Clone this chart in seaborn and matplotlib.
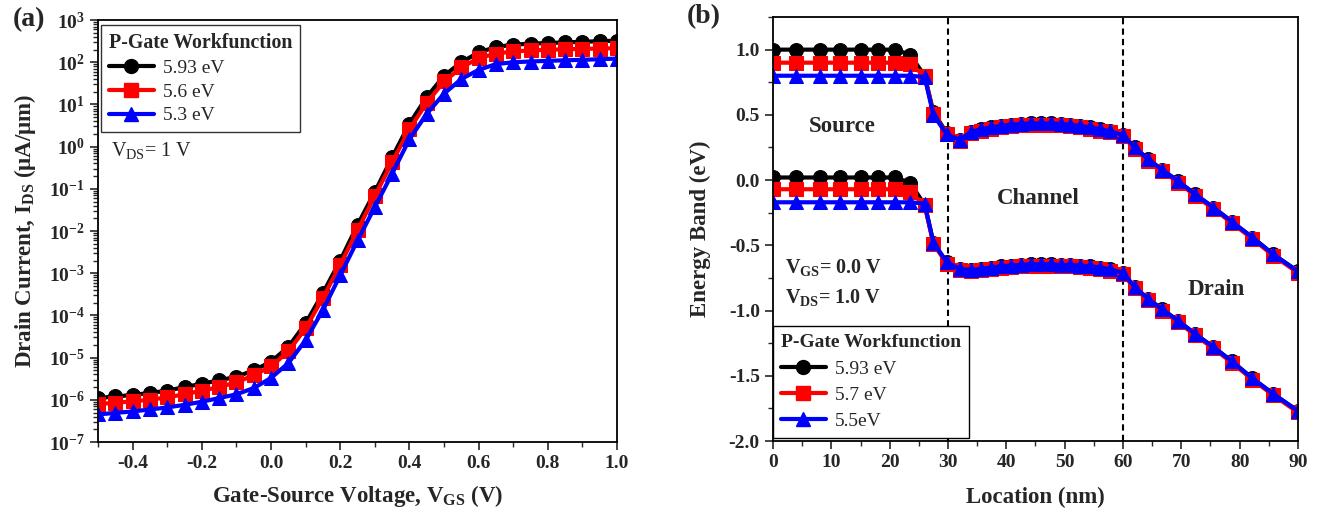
import numpy as np
import pandas as pd
import seaborn as sns
import matplotlib
matplotlib.use("Agg")
import matplotlib.pyplot as plt
from matplotlib.ticker import MultipleLocator, FixedLocator, FuncFormatter, LogLocator, NullFormatter
from matplotlib.lines import Line2D

# ---------------- data: panel (a) ----------------
vgs = [-0.5, -0.45, -0.4, -0.35, -0.3, -0.25, -0.2, -0.15, -0.1, -0.05, 0.0,
       0.05, 0.1, 0.15, 0.2, 0.25, 0.3, 0.35, 0.4, 0.45, 0.5,
       0.55, 0.6, 0.65, 0.7, 0.75, 0.8, 0.85, 0.9, 0.95, 1.0]
ids_593 = [1.1e-6, 1.2e-6, 1.3e-6, 1.45e-6, 1.65e-6, 2.0e-6, 2.4e-6, 2.9e-6, 3.5e-6, 5.0e-6, 8.0e-6,
           1.8e-5, 6.5e-5, 3.4e-4, 2.0e-3, 1.4e-2, 8.5e-2, 0.56, 3.5, 15, 48,
           100, 170, 230, 260, 275, 285, 295, 305, 315, 325]
ids_56 = [8.0e-7, 8.5e-7, 9.2e-7, 1.0e-6, 1.15e-6, 1.35e-6, 1.65e-6, 2.0e-6, 2.6e-6, 3.8e-6, 6.2e-6,
          1.4e-5, 5.0e-5, 2.6e-4, 1.6e-3, 1.05e-2, 6.8e-2, 0.43, 2.6, 11, 35,
          75, 125, 160, 180, 190, 197, 203, 207, 211, 215]
ids_53 = [4.5e-7, 4.9e-7, 5.3e-7, 5.9e-7, 6.6e-7, 7.6e-7, 9.0e-7, 1.1e-6, 1.35e-6, 1.9e-6, 3.3e-6,
          7.4e-6, 2.6e-5, 1.35e-4, 9.0e-4, 6.0e-3, 3.7e-2, 0.23, 1.5, 6.0, 18,
          40, 66, 90, 100, 104, 108, 111, 114, 118, 122]
labels_a = ["5.93 eV", "5.6 eV", "5.3 eV"]

# ---------------- data: panel (b) ----------------
loc_nm = [0, 4, 8, 11.5, 15, 18, 21, 23.5,
          26, 27.5, 29.8, 32, 34,
          35.7, 37.4, 39.1, 40.8, 42.5, 44.2, 45.9, 47.6, 49.3, 51, 52.7, 54.4, 56.1, 57.8, 60,
          62, 64.3, 66.7, 69.5, 72.4, 75.5, 78.7, 82.2, 85.8, 90]
cb_593 = [1.0, 1.0, 1.0, 1.0, 1.0, 1.0, 1.0, 0.96,
          0.80, 0.52, 0.36, 0.31, 0.37,
          0.39, 0.405, 0.415, 0.425, 0.43, 0.435, 0.435, 0.435, 0.43, 0.425, 0.415, 0.405, 0.39, 0.375, 0.345,
          0.25, 0.16, 0.08, -0.01, -0.11, -0.21, -0.32, -0.44, -0.57, -0.70]
cb_57 = [0.9, 0.9, 0.9, 0.9, 0.9, 0.9, 0.9, 0.89,
         0.80, 0.51, 0.35, 0.30, 0.36,
         0.38, 0.395, 0.405, 0.415, 0.42, 0.425, 0.425, 0.425, 0.42, 0.415, 0.405, 0.395, 0.38, 0.365, 0.335,
         0.24, 0.15, 0.07, -0.02, -0.12, -0.22, -0.33, -0.45, -0.58, -0.71]
cb_55 = [0.8, 0.8, 0.8, 0.8, 0.8, 0.8, 0.8, 0.8,
         0.79, 0.50, 0.35, 0.31, 0.37,
         0.39, 0.405, 0.415, 0.425, 0.43, 0.435, 0.435, 0.435, 0.43, 0.425, 0.415, 0.405, 0.39, 0.375, 0.345,
         0.25, 0.16, 0.08, -0.01, -0.11, -0.21, -0.32, -0.44, -0.57, -0.70]
vb_593 = [0.02, 0.02, 0.02, 0.02, 0.02, 0.02, 0.02, -0.02,
          -0.19, -0.48, -0.63, -0.68, -0.69,
          -0.68, -0.67, -0.66, -0.655, -0.65, -0.645, -0.645, -0.645, -0.65, -0.65, -0.655, -0.66, -0.67, -0.685, -0.71,
          -0.82, -0.91, -0.99, -1.08, -1.18, -1.28, -1.39, -1.52, -1.64, -1.77]
vb_57 = [-0.07, -0.07, -0.07, -0.07, -0.07, -0.07, -0.07, -0.09,
         -0.19, -0.49, -0.64, -0.69, -0.70,
         -0.69, -0.68, -0.67, -0.665, -0.66, -0.655, -0.655, -0.655, -0.66, -0.66, -0.665, -0.67, -0.68, -0.695, -0.72,
         -0.83, -0.92, -1.00, -1.09, -1.19, -1.29, -1.40, -1.53, -1.65, -1.78]
vb_55 = [-0.17, -0.17, -0.17, -0.17, -0.17, -0.17, -0.17, -0.17,
         -0.18, -0.48, -0.63, -0.68, -0.69,
         -0.68, -0.67, -0.66, -0.655, -0.65, -0.645, -0.645, -0.645, -0.65, -0.65, -0.655, -0.66, -0.67, -0.685, -0.71,
         -0.82, -0.91, -0.99, -1.08, -1.18, -1.28, -1.39, -1.52, -1.64, -1.77]
labels_b = ["5.93 eV", "5.7 eV", "5.5eV"]

colors = ["#000000", "#ff0000", "#0000ff"]
markers = ["o", "s", "^"]

# ---------------- style ----------------
sns.set_style("ticks")
plt.rcParams["font.family"] = ["Liberation Serif", "DejaVu Serif"]
plt.rcParams["mathtext.fontset"] = "custom"
plt.rcParams["mathtext.rm"] = "Liberation Serif"
plt.rcParams["mathtext.bf"] = "Liberation Serif:bold"
plt.rcParams["mathtext.it"] = "Liberation Serif:italic"
plt.rcParams["axes.linewidth"] = 1.3
plt.rcParams["xtick.direction"] = "out"
plt.rcParams["ytick.direction"] = "out"

fig = plt.figure(figsize=(13.18, 5.16), dpi=100)
ax1 = fig.add_axes([0.0744, 0.1434, 0.3938, 0.8178])
ax2 = fig.add_axes([0.5865, 0.1453, 0.3983, 0.8217])

LW = 3.0
MS = 10
LABEL_FS = 16.5

# ---------------- panel (a) ----------------
df_a = pd.DataFrame({"vgs": vgs * 3,
                     "ids": ids_593 + ids_56 + ids_53,
                     "wf": [labels_a[0]] * len(vgs) + [labels_a[1]] * len(vgs) + [labels_a[2]] * len(vgs)})
for lab, c, m in zip(labels_a, colors, markers):
    sub = df_a[df_a["wf"] == lab]
    sns.lineplot(data=sub, x="vgs", y="ids", ax=ax1, color=c, marker=m, markersize=MS,
                 markeredgecolor=c, linewidth=LW, legend=False, estimator=None, sort=False)

ax1.set_yscale("log")
ax1.set_xlim(-0.5, 1.0)
ax1.set_ylim(1e-7, 1e3)
ax1.xaxis.set_major_locator(FixedLocator([-0.4, -0.2, 0.0, 0.2, 0.4, 0.6, 0.8, 1.0]))
ax1.xaxis.set_minor_locator(MultipleLocator(0.1))
ax1.xaxis.set_major_formatter(FuncFormatter(lambda v, p: f"{v:.1f}"))
ax1.yaxis.set_major_locator(LogLocator(base=10, numticks=20))
ax1.yaxis.set_minor_locator(LogLocator(base=10, subs=np.arange(2, 10), numticks=20))
ax1.yaxis.set_minor_formatter(NullFormatter())
ax1.yaxis.set_major_formatter(FuncFormatter(lambda v, p: r"$\mathbf{10^{%d}}$" % int(round(np.log10(v)))))
ax1.set_xlabel(r"Gate-Source Voltage, V$_{\mathbf{GS}}$ (V)", fontsize=LABEL_FS, fontweight="bold", labelpad=8)
ax1.set_ylabel(r"Drain Current, I$_{\mathbf{DS}}$ ($\mathbf{\mu}$A/$\mathbf{\mu}$m)", fontsize=LABEL_FS,
               fontweight="bold", labelpad=8)
ax1.text(0.025, 0.69, r"V$_{\mathrm{DS}}$= 1 V", transform=ax1.transAxes, fontsize=14.5, va="center")
ax1.text(-0.165, 1.0, "(a)", transform=ax1.transAxes, fontsize=20, fontweight="bold", va="center")

h_a = [Line2D([], [], color=c, marker=m, markersize=MS, linewidth=LW) for c, m in zip(colors, markers)]
leg1 = ax1.legend(h_a, labels_a, title="P-Gate Workfunction", loc="upper left",
                  bbox_to_anchor=(0.006, 0.988), fontsize=14, frameon=True, fancybox=False,
                  edgecolor="black", handlelength=2.3, borderpad=0.4, labelspacing=0.32,
                  handletextpad=0.5, borderaxespad=0.0)
leg1.get_title().set_fontweight("bold")
leg1.get_title().set_fontsize(14.3)
leg1.get_frame().set_linewidth(1.0)
leg1._legend_box.align = "left"

# ---------------- panel (b) ----------------
for cb, vb, c, m in zip([cb_593, cb_57, cb_55], [vb_593, vb_57, vb_55], colors, markers):
    for band in (cb, vb):
        d = pd.DataFrame({"loc": loc_nm, "E": band})
        sns.lineplot(data=d, x="loc", y="E", ax=ax2, color=c, marker=m, markersize=MS,
                     markeredgecolor=c, linewidth=LW, legend=False, estimator=None, sort=False)

ax2.axvline(30, color="black", linestyle=(0, (3, 2)), linewidth=1.5, zorder=0)
ax2.axvline(60, color="black", linestyle=(0, (3, 2)), linewidth=1.5, zorder=0)
ax2.set_xlim(0, 90)
ax2.set_ylim(-2.0, 1.25)
ax2.xaxis.set_major_locator(MultipleLocator(10))
ax2.xaxis.set_minor_locator(MultipleLocator(5))
ax2.yaxis.set_major_locator(FixedLocator([-2.0, -1.5, -1.0, -0.5, 0.0, 0.5, 1.0]))
ax2.yaxis.set_minor_locator(MultipleLocator(0.25))
ax2.yaxis.set_major_formatter(FuncFormatter(lambda v, p: f"{v:.1f}"))
ax2.set_xlabel("Location (nm)", fontsize=LABEL_FS, fontweight="bold", labelpad=11)
ax2.set_ylabel("Energy Band (eV)", fontsize=LABEL_FS, fontweight="bold", labelpad=13)
ax2.text(11.8, 0.41, "Source", fontsize=16.5, fontweight="bold", ha="center", va="center")
ax2.text(45.5, -0.14, "Channel", fontsize=16.5, fontweight="bold", ha="center", va="center")
ax2.text(76, -0.84, "Drain", fontsize=16.5, fontweight="bold", ha="center", va="center")
ax2.text(2, -0.67, r"V$_{\mathbf{GS}}$= 0.0 V", fontsize=14.5, fontweight="bold", va="center")
ax2.text(2, -0.90, r"V$_{\mathbf{DS}}$= 1.0 V", fontsize=14.5, fontweight="bold", va="center")
ax2.text(-0.165, 1.0, "(b)", transform=ax2.transAxes, fontsize=20, fontweight="bold", va="center")

h_b = [Line2D([], [], color=c, marker=m, markersize=MS, linewidth=LW) for c, m in zip(colors, markers)]
leg2 = ax2.legend(h_b, labels_b, title="P-Gate Workfunction", loc="lower left",
                  bbox_to_anchor=(0.0, 0.007), fontsize=14, frameon=True, fancybox=False,
                  edgecolor="black", handlelength=2.3, borderpad=0.4, labelspacing=0.45,
                  handletextpad=0.5, borderaxespad=0.0, framealpha=1.0)
leg2.get_title().set_fontweight("bold")
leg2.get_title().set_fontsize(14.0)
leg2.get_frame().set_linewidth(1.0)
leg2._legend_box.align = "left"

for ax in (ax1, ax2):
    ax.tick_params(axis="both", which="major", length=6, width=1.2, labelsize=14, top=False, right=False)
    ax.tick_params(axis="both", which="minor", length=3.5, width=1.0, top=False, right=False)
    for lab in ax.get_xticklabels() + ax.get_yticklabels():
        lab.set_fontweight("bold")
    for s in ax.spines.values():
        s.set_visible(True)
        s.set_color("black")

fig.savefig("out.png", dpi=100)
